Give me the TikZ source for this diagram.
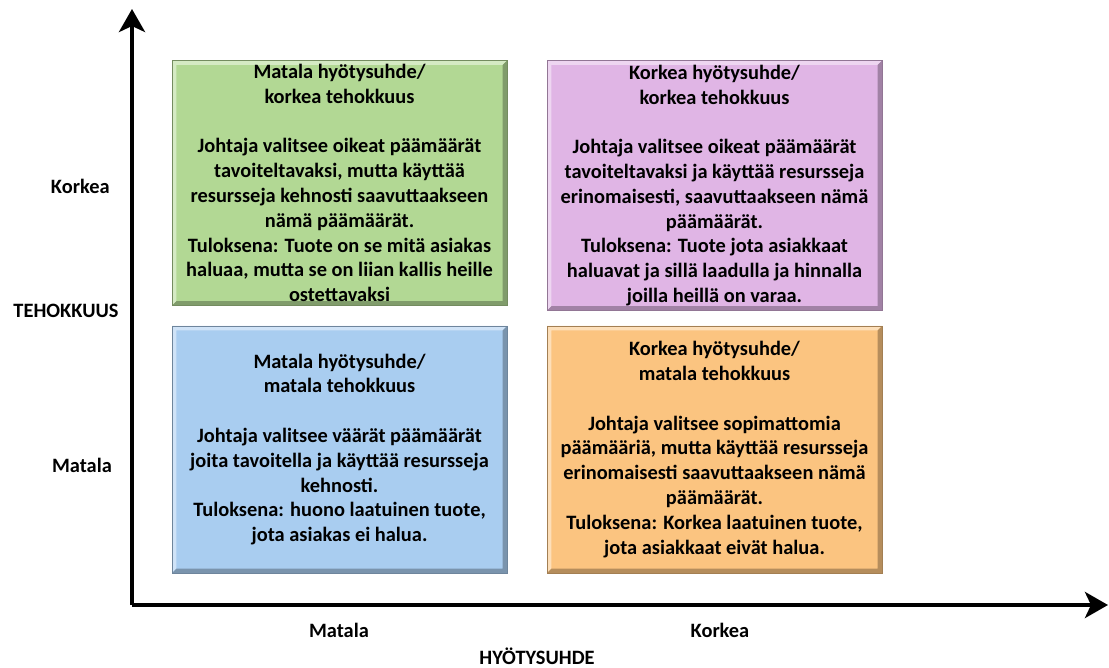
\documentclass[tikz,border=0pt]{standalone}
\usepackage{fontspec}
\setmainfont{Carlito}
\usetikzlibrary{arrows.meta,calc}

\definecolor{qgreen}{RGB}{178,216,148}
\definecolor{qpurple}{RGB}{224,181,229}
\definecolor{qblue}{RGB}{169,205,240}
\definecolor{qorange}{RGB}{251,196,128}

\tikzset{
  txt/.style={font=\fontsize{10.2}{12.4}\selectfont\bfseries, inner sep=0pt},
  quad/.style={draw=#1!65!black, line width=0.4pt, fill=#1, inner sep=0pt,
    minimum width=167.5pt, align=center,
    font=\fontsize{10.2}{12.4}\selectfont\bfseries,
    path picture={
      \coordinate (qsw) at (path picture bounding box.south west);
      \coordinate (qse) at (path picture bounding box.south east);
      \coordinate (qne) at (path picture bounding box.north east);
      \coordinate (qnw) at (path picture bounding box.north west);
      % lit upper and left rims
      \fill[#1!55!white] (qsw) -- (qnw) -- (qne) -- ($(qne)+(-2.2pt,-2.2pt)$)
        -- ($(qnw)+(2.2pt,-2.2pt)$) -- ($(qsw)+(2.2pt,2.2pt)$) -- cycle;
      % shaded lower and right rims
      \fill[#1!72!black] (qne) -- (qse) -- (qsw) -- ($(qsw)+(2.2pt,2.2pt)$)
        -- ($(qse)+(-2.2pt,2.2pt)$) -- ($(qne)+(-2.2pt,-2.2pt)$) -- cycle;
    }},
  axis/.style={line width=2.2pt, -{Stealth[length=11.5pt, width=13pt, inset=3pt]}}
}

\begin{document}
\begin{tikzpicture}[x=0.5pt, y=-0.5pt]
\useasboundingbox (0,0) rectangle (1109,668);

% quadrants
\node[quad=qgreen, minimum height=122.5pt] (hl) at (339.5,183) {%
Matala hyötysuhde/\\korkea tehokkuus\\[12.4pt]
Johtaja valitsee oikeat päämäärät\\tavoiteltavaksi, mutta käyttää\\
resursseja kehnosti saavuttaakseen\\nämä päämäärät.\\
Tuloksena: Tuote on se mitä asiakas\\haluaa, mutta se on liian kallis heille\\ostettavaksi};

\node[quad=qpurple, minimum height=125pt] (hh) at (714.5,185.5) {%
Korkea hyötysuhde/\\korkea tehokkuus\\[12.4pt]
Johtaja valitsee oikeat päämäärät\\tavoiteltavaksi ja käyttää resursseja\\
erinomaisesti, saavuttaakseen nämä\\päämäärät.\\
Tuloksena: Tuote jota asiakkaat\\haluavat ja sillä laadulla ja hinnalla\\joilla heillä on varaa.};

\node[quad=qblue, minimum height=123.5pt] (ll) at (339.5,449.5) {%
Matala hyötysuhde/\\matala tehokkuus\\[12.4pt]
Johtaja valitsee väärät päämäärät\\joita tavoitella ja käyttää resursseja\\
kehnosti.\\
Tuloksena: huono laatuinen tuote,\\jota asiakas ei halua.};

\node[quad=qorange, minimum height=123.5pt] (lh) at (714.5,449.5) {%
Korkea hyötysuhde/\\matala tehokkuus\\[12.4pt]
Johtaja valitsee sopimattomia\\päämääriä, mutta käyttää resursseja\\
erinomaisesti saavuttaakseen nämä\\päämäärät.\\
Tuloksena: Korkea laatuinen tuote,\\jota asiakkaat eivät halua.};

% axes
\coordinate (origin) at (132,605);
\coordinate (ytip) at (132,9);
\coordinate (xtip) at (1108,605);
\draw[axis] (origin) -- (ytip);
\draw[axis] (origin) -- (xtip);

% axis labels
\node[txt, anchor=east] (ykork) at (110,186) {Korkea};
\node[txt] (yname) at (66,311) {TEHOKKUUS};
\node[txt] (ymat) at (82,465) {Matala};
\node[txt] (xmat) at (339,630) {Matala};
\node[txt] (xkork) at (720,630) {Korkea};
\node[txt, anchor=base, text depth=0pt] (xname) at (537,664) {HYÖTYSUHDE};
\end{tikzpicture}
\end{document}
